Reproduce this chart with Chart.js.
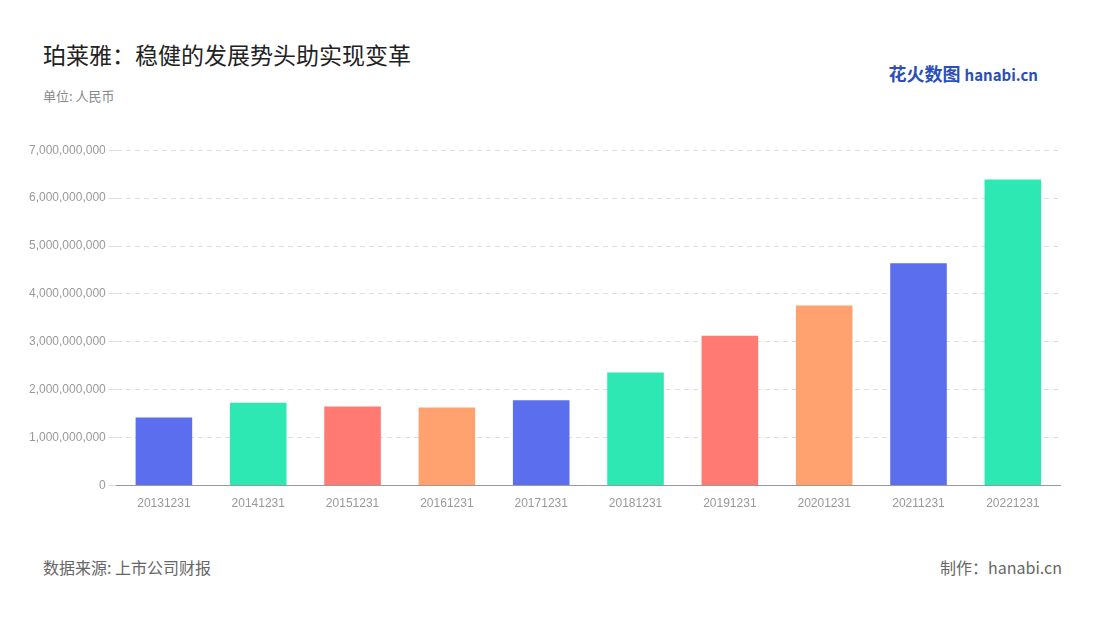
<!DOCTYPE html>
<html><head><meta charset="utf-8">
<script src="https://cdn.jsdelivr.net/npm/chart.js@4"></script>
<style>
body{margin:0;width:1100px;height:620px;background:#fff;font-family:"Noto Sans CJK SC","Noto Sans",sans-serif;position:relative;overflow:hidden}
.t{position:absolute;white-space:nowrap}
</style></head><body>
<div class="t" style="left:43px;top:37px;font-size:23px;color:#222">珀莱雅：稳健的发展势头助实现变革</div>
<div class="t" style="left:43px;top:86px;font-size:13px;color:#888">单位: 人民币</div>
<div class="t" style="right:62px;top:60px;font-size:18px;font-weight:bold;color:#2b4fb8">花火数图 <span style="font-size:15px">hanabi.cn</span></div>
<div class="t" style="left:43px;top:555px;font-size:16px;color:#666">数据来源: 上市公司财报</div>
<div class="t" style="right:38px;top:555px;font-size:16px;color:#666">制作：hanabi.cn</div>
<div style="position:absolute;left:26px;top:140px;width:1044px;height:374px"><canvas id="c"></canvas></div>
<script>
// ===== Data =====
const years = ['20131231','20141231','20151231','20161231','20171231','20181231','20191231','20201231','20211231','20221231'];
const revenue = [1420000000,1730000000,1650000000,1630000000,1780000000,2360000000,3130000000,3760000000,4640000000,6390000000];
const palette = ['#5B6FEE','#2EE8B4','#FF7A72','#FFA26F'];

new Chart(document.getElementById('c'), {
  type: 'bar',
  data: { labels: years, datasets: [{ data: revenue, backgroundColor: years.map((_, i) => palette[i % 4]), barPercentage: 0.6, categoryPercentage: 1 }] },
  options: {
    responsive: true, maintainAspectRatio: false, animation: false,
    layout: { padding: { top: 4, right: 10 } },
    plugins: { legend: { display: false }, tooltip: { enabled: false } },
    scales: {
      x: { grid: { display: false }, border: { color: '#999' }, ticks: { color: '#999', font: { size: 12 } } },
      y: {
        min: 0, max: 7000000000,
        ticks: { stepSize: 1000000000, color: '#999', font: { size: 12 }, callback: v => v.toLocaleString('en-US') },
        grid: { color: '#ddd' }, border: { display: false, dash: [5, 4] }
      }
    }
  }
});
</script>
</body></html>
